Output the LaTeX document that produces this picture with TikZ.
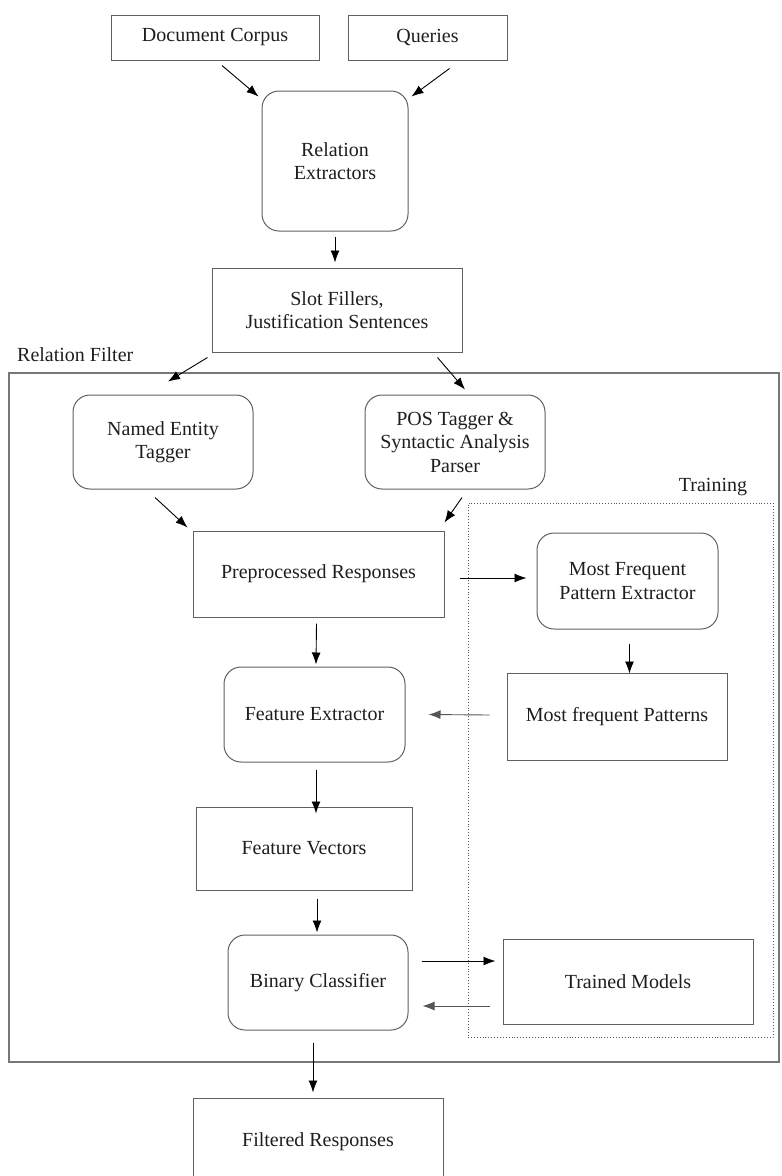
\documentclass[tikz,border=0pt]{standalone}
\usepackage{fontspec}
\setmainfont{Liberation Serif}
\usetikzlibrary{arrows.meta,calc}
\definecolor{edge}{HTML}{606060}
\definecolor{frm}{HTML}{777777}
\definecolor{ink}{HTML}{1E1E1E}
\definecolor{garrow}{HTML}{555555}
\tikzset{
  box/.style={draw=edge, line width=1pt, text=ink, align=center, inner sep=0pt,
              font=\fontsize{20}{23.5}\selectfont},
  rbox/.style={box, rounded corners=17pt},
  arr/.style={-{Latex[length=12pt,width=9pt]}, line width=0.9pt, black},
  garr/.style={arr, garrow},
  lbl/.style={text=ink, inner sep=0pt, font=\fontsize{20}{23.5}\selectfont},
}
\begin{document}
\begin{tikzpicture}[x=1pt,y=-1pt]
\useasboundingbox (0,0) rectangle (782,1176);
% frames
\node[draw=frm, line width=1.8pt, minimum width=770pt, minimum height=689pt, inner sep=0pt] (rf) at (394,717.5) {};
\node[draw=garrow, dotted, line width=0.9pt, minimum width=305pt, minimum height=534pt, inner sep=0pt] (tr) at (620.5,770) {};
\node[lbl, anchor=west] (rflbl) at (17,355) {Relation Filter};
\node[lbl] (trlbl) at (713,487) {Training};
% nodes
\node[box, minimum width=208pt, minimum height=45pt] (dc) at (215,37.5) {Document Corpus};
\node[box, minimum width=159pt, minimum height=45pt] (q) at (427.5,37.5) {Queries};
\node[rbox, minimum width=146pt, minimum height=140pt] (re) at (335,161) {Relation\\Extractors};
\node[box, minimum width=250pt, minimum height=84pt] (slot) at (337,310) {Slot Fillers,\\Justification Sentences};
\node[rbox, minimum width=180pt, minimum height=94pt] (net) at (163,442) {Named Entity\\Tagger};
\node[rbox, minimum width=180pt, minimum height=94pt] (pos) at (455,442) {POS Tagger \&\\Syntactic Analysis\\Parser};
\node[box, minimum width=251pt, minimum height=86pt] (pre) at (318.5,574) {Preprocessed Responses};
\node[rbox, minimum width=181pt, minimum height=96pt] (mfpe) at (627.5,581) {Most Frequent\\Pattern Extractor};
\node[box, minimum width=220pt, minimum height=87pt] (mfp) at (617,716.5) {Most frequent Patterns};
\node[rbox, minimum width=181pt, minimum height=95pt] (fe) at (314.5,714.5) {Feature Extractor};
\node[box, minimum width=216pt, minimum height=83pt] (fv) at (304,848.5) {Feature Vectors};
\node[rbox, minimum width=180pt, minimum height=95pt] (bc) at (318,982.5) {Binary Classifier};
\node[box, minimum width=250pt, minimum height=85pt] (tm) at (628,981.5) {Trained Models};
\node[box, minimum width=250pt, minimum height=88pt] (fr) at (318,1142) {Filtered Responses};
% connectors
\draw[arr] ([shift={(7,5)}]dc.south) -- ([shift={(-3,6)}]re.north west);
\draw[arr] ([shift={(22,8)}]q.south) -- ([shift={(3,6)}]re.north east);
\draw[arr] ([yshift=-5]re.south) -- ([yshift=5]re.south |- slot.north);
\draw[arr] ([shift={(-4,5)}]slot.south west) -- ([shift={(5,-13)}]net.north);
\draw[arr] ([shift={(-25,5)}]slot.south east) -- ([shift={(10,-5)}]pos.north);
\draw[arr] ([shift={(-8,8)}]net.south) -- ([shift={(-5,-3)}]pre.north west);
\draw[arr] ([shift={(7,8)}]pos.south) -- ([shift={(0,-8)}]pre.north east);
\draw[arr] ([shift={(15,4)}]pre.east) -- ([shift={(-10,-3)}]mfpe.west);
\draw[arr] ([shift={(-2,6)}]pre.south) -- ([shift={(1.5,-2)}]fe.north);
\draw[arr] ([shift={(2,14)}]mfpe.south) -- ([shift={(2,1)}]mfpe.south |- mfp.north);
\draw[garr] ([shift={(-17,-1.5)}]mfp.west) -- ([shift={(23,0)}]fe.east);
\draw[arr] ([shift={(1.5,7)}]fe.south) -- ([shift={(1.5,7)}]fe.south |- fv.north);
\draw[arr] ([shift={(-1,8)}]bc.north |- fv.south) -- ([shift={(-1,-2)}]bc.north);
\draw[arr] ([shift={(13,-21.5)}]bc.east) -- ([shift={(-7,-20.5)}]tm.west);
\draw[garr] ([shift={(-13,24.5)}]tm.west) -- ([shift={(14,23.5)}]bc.east);
\draw[arr] ([shift={(-5,12)}]bc.south) -- ([shift={(-5,-5)}]bc.south |- fr.north);
\end{tikzpicture}
\end{document}
